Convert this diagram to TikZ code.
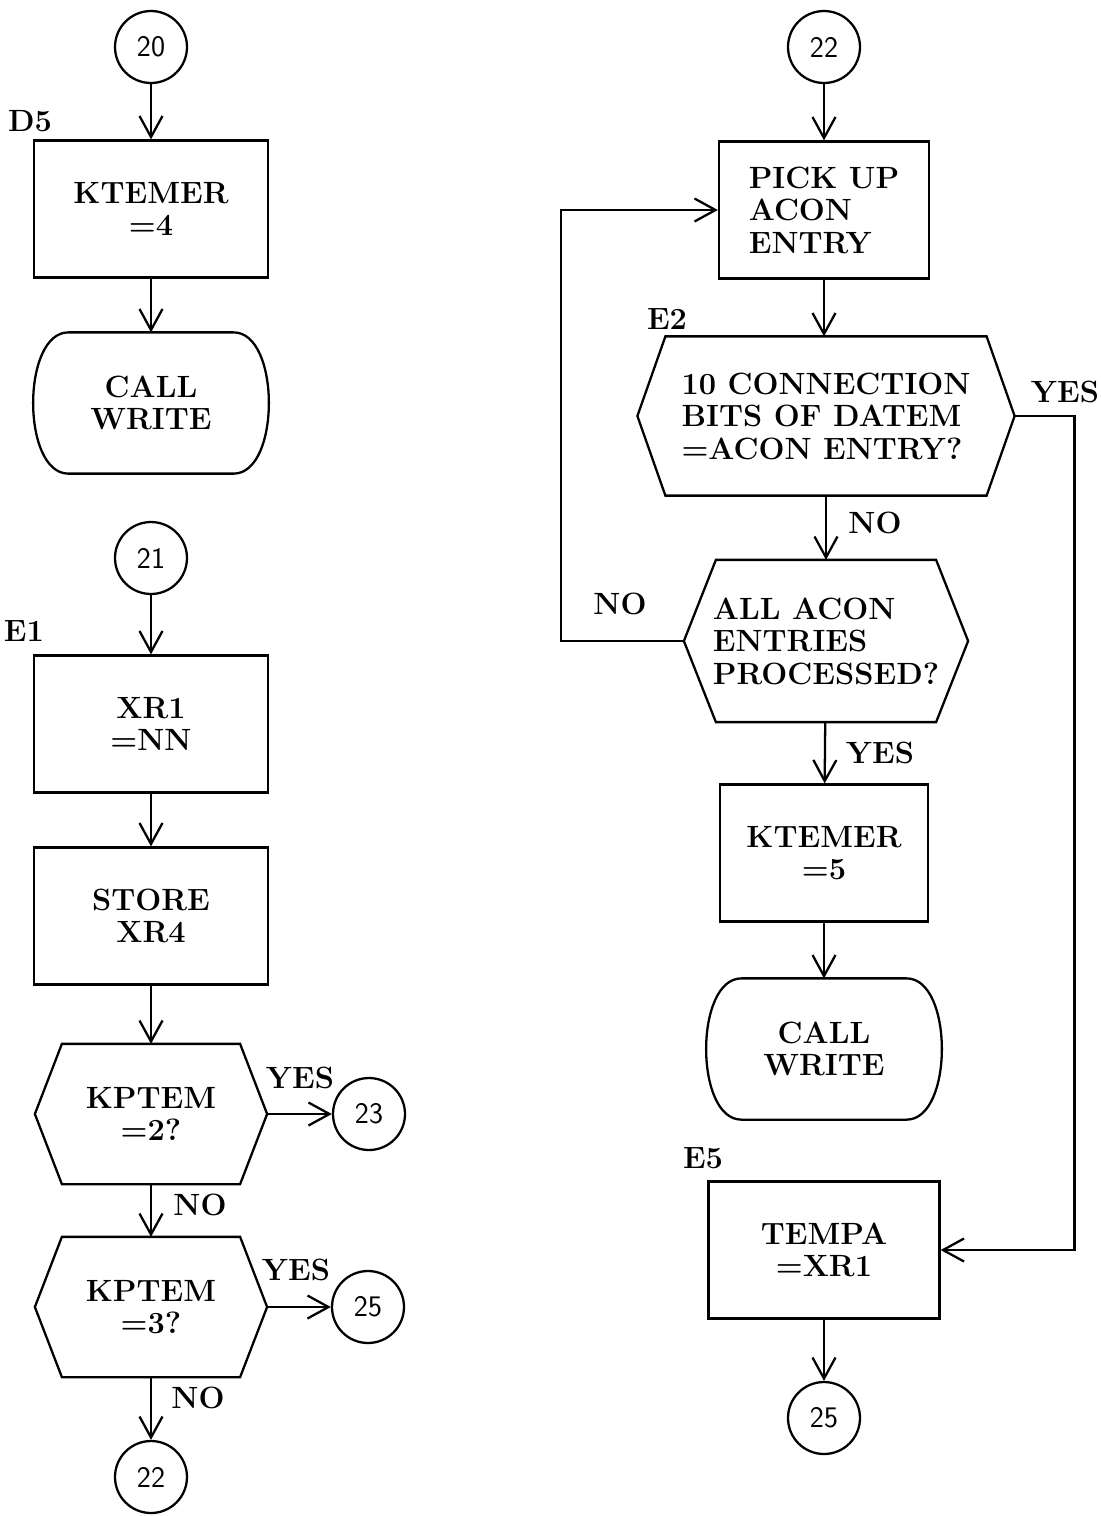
\documentclass[tikz,border=0pt]{standalone}
\usepackage{tikz}
\usetikzlibrary{arrows.meta}
\usetikzlibrary{positioning}

\newcommand{\flowfont}{\fontsize{17.5}{18.5}\selectfont\bfseries}
\newcommand{\numfont}{\sffamily\fontsize{17}{18}\selectfont}
% hexagon decision outline round a plain node
\newcommand{\drawhex}[2]{\draw (#1.west) -- ([xshift=#2]#1.north west) -- ([xshift=-#2]#1.north east) -- (#1.east) -- ([xshift=-#2]#1.south east) -- ([xshift=#2]#1.south west) -- cycle;}
% terminal with bulged sides
\newcommand{\drawterm}[1]{\draw ([xshift=0.7cm]#1.north west) -- ([xshift=-0.7cm]#1.north east) .. controls ([xshift=0.24cm]#1.north east) and ([xshift=0.24cm]#1.south east) .. ([xshift=-0.7cm]#1.south east) -- ([xshift=0.7cm]#1.south west) .. controls ([xshift=-0.24cm]#1.south west) and ([xshift=-0.24cm]#1.north west) .. cycle;}

\begin{document}
\begin{tikzpicture}[
  x=0.02cm, y=-0.02cm,
  line width=1.3pt,
  >={Straight Barb[length=0.42cm,width=0.46cm]},
  box/.style={draw, minimum width=4.68cm, minimum height=2.74cm, align=center, font=\flowfont, inner sep=2pt},
  conn/.style={draw, circle, minimum size=1.44cm, inner sep=0pt, font=\numfont},
  hexbox/.style={minimum width=4.6cm, minimum height=2.76cm, align=center, font=\flowfont, inner sep=0pt},
  term/.style={minimum width=4.66cm, minimum height=2.78cm, align=center, font=\flowfont, inner sep=0pt},
  lbl/.style={font=\flowfont, inner sep=0pt}
]
\useasboundingbox (0,0) rectangle (1101,1516);

% left column
\node[conn] (c20) at (151,47) {20};
\node[lbl] (d5lbl) at (30,121) {D5};
\node[box] (kt4) at (151,209) {KTEMER\\=4};
\node[term] (cw1) at (151,403) {CALL\\WRITE};
\drawterm{cw1}

\node[conn] (c21) at (151,558) {21};
\node[lbl] (e1lbl) at (24,631) {E1};
\node[box] (xr1) at (151,724) {XR1\\=NN};
\node[box] (store) at (151,916) {STORE\\XR4};
\node[hexbox] (kp2) at (151,1114) {KPTEM\\=2?};
\drawhex{kp2}{0.54cm}
\node[conn] (c23) at (369,1114) {23};
\node[lbl] (yes1) at (300,1078) {YES};
\node[lbl] (no1) at (200,1205) {NO};
\node[hexbox] (kp3) at (151,1307) {KPTEM\\=3?};
\drawhex{kp3}{0.54cm}
\node[conn] (c25a) at (368,1307) {25};
\node[lbl] (yes2) at (296,1270) {YES};
\node[lbl] (no2) at (198,1398) {NO};
\node[conn] (c22a) at (151,1477) {22};

\draw[->] (c20) -- (kt4);
\draw[->] (kt4) -- (cw1);
\draw[->] (c21) -- (xr1);
\draw[->] (xr1) -- (store);
\draw[->] (store) -- (kp2);
\draw[->] (kp2) -- (kp3);
\draw[->] (kp2.east) -- (c23);
\draw[->] (kp3.east) -- (c25a);
\draw[->] (kp3) -- (c22a);

% right column
\node[conn] (c22b) at (824,47) {22};
\node[box, minimum width=4.2cm, align=left] (pick) at (824,210) {PICK UP\\ACON\\ENTRY};
\node[lbl] (e2lbl) at (667,319) {E2};
\node[hexbox, minimum width=7.5cm, minimum height=3.14cm, align=left] (bits) at (826,416) {10 CONNECTION\\BITS OF DATEM\\=ACON ENTRY?};
\drawhex{bits}{0.56cm}
\node[lbl] (yes3) at (1065,392) {YES};
\node[lbl] (no3) at (875,523) {NO};
\node[hexbox, minimum width=5.64cm, minimum height=3.2cm, align=left] (allp) at (826,641) {ALL ACON\\ENTRIES\\PROCESSED?};
\drawhex{allp}{0.64cm}
\node[lbl] (no4) at (620,604) {NO};
\node[lbl] (yes4) at (880,753) {YES};
\node[box, minimum width=4.16cm] (kt5) at (824,853) {KTEMER\\=5};
\node[term] (cw2) at (824,1049) {CALL\\WRITE};
\drawterm{cw2}
\node[lbl] (e5lbl) at (703,1158) {E5};
\node[box, minimum width=4.62cm] (tempa) at (824,1250) {TEMPA\\=XR1};
\node[conn] (c25b) at (824,1418) {25};

\draw[->] (c22b) -- (pick);
\draw[->] (pick) -- (bits.north -| pick);
\draw[->] (bits.south -| allp) -- (allp);
\draw[->] (allp) -- (kt5);
\draw[->] (kt5) -- (cw2);
\draw[->] (tempa) -- (c25b);
\draw[->] (allp.west) -- ++(-123,0) |- (pick.west);
\draw[->] (bits.east) -- ++(60,0) |- (tempa.east);
\end{tikzpicture}
\end{document}
